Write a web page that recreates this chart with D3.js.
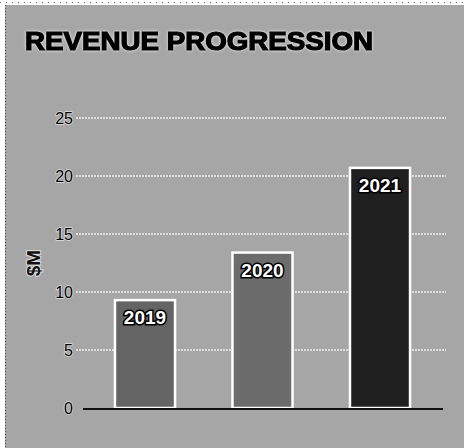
<!DOCTYPE html>
<html><head><meta charset="utf-8">
<script src="https://cdn.jsdelivr.net/npm/d3@7"></script>
<style>html,body{margin:0;padding:0;background:#fff;}</style>
</head><body>
<svg id="c" width="464" height="448"></svg>
<script>
const categories = ["2019","2020","2021"];
const revenue = [9.3, 13.4, 20.7];
const tickValues = [0,5,10,15,20,25];
const barColors = ["#646464","#6c6c6c","#202020"];

const svg = d3.select("#c");
const W=464,H=448;
svg.append("rect").attr("x",5).attr("y",5).attr("width",W-5).attr("height",H-5).attr("fill","#a6a6a6");
svg.append("line").attr("x1",0).attr("x2",W).attr("y1",2.5).attr("y2",2.5).attr("stroke","#666").attr("stroke-dasharray","1,5");
svg.append("line").attr("x1",5.5).attr("x2",5.5).attr("y1",5).attr("y2",H).attr("stroke","#444").attr("stroke-dasharray","1,2");

const y = d3.scaleLinear().domain([0,25]).range([408,118]);
const x = d3.scaleBand().domain(categories).range([85,440]).paddingInner(0.489).paddingOuter(0.255);

svg.append("g").selectAll("line").data(tickValues.filter(d=>d>0)).join("line")
  .attr("x1",76).attr("x2",446).attr("y1",d=>y(d)).attr("y2",d=>y(d))
  .attr("stroke","#eee").attr("stroke-width",1.5).attr("stroke-dasharray","2,1");

const ax = d3.axisLeft(y).tickValues(tickValues).tickSize(0).tickPadding(3);
const g = svg.append("g").attr("transform","translate(76,0)").call(ax);
g.select(".domain").remove();
g.selectAll("text").attr("font-family","Liberation Sans, Arial, sans-serif").attr("font-size",16)
  .attr("fill","#000").attr("stroke","#ddd").attr("stroke-width",1.5).attr("paint-order","stroke").attr("dy","0.35em");

svg.append("g").selectAll("rect").data(revenue).join("rect")
  .attr("x",(d,i)=>x(categories[i])).attr("width",x.bandwidth())
  .attr("y",d=>y(d)).attr("height",d=>y(0)-y(d))
  .attr("fill",(d,i)=>barColors[i]).attr("stroke","#fff").attr("stroke-width",2.5);

svg.append("line").attr("x1",83).attr("x2",443).attr("y1",y(0)+1).attr("y2",y(0)+1).attr("stroke","#111").attr("stroke-width",2);

svg.append("g").selectAll("text").data(revenue).join("text")
  .attr("x",(d,i)=>x(categories[i])+x.bandwidth()/2).attr("y",d=>y(d)+24)
  .attr("text-anchor","middle").attr("font-family","Liberation Sans, Arial, sans-serif")
  .attr("font-weight","bold").attr("font-size",19).attr("fill","#fff")
  .attr("stroke","#000").attr("stroke-width",3).attr("paint-order","stroke")
  .text((d,i)=>categories[i]);

svg.append("text").attr("transform","translate(40,263) rotate(-90)")
  .attr("text-anchor","middle").attr("font-family","Liberation Sans, Arial, sans-serif")
  .attr("font-weight","bold").attr("font-size",19).attr("fill","#111")
  .attr("stroke","#ddd").attr("stroke-width",2).attr("paint-order","stroke").text("$M");

svg.append("text").attr("x",25).attr("y",49.5).attr("font-family","Liberation Sans, Arial, sans-serif")
  .attr("font-weight","bold").attr("font-size",25).attr("fill","#000")
  .attr("stroke","#000").attr("stroke-width",1.2)
  .attr("textLength",348).attr("lengthAdjust","spacingAndGlyphs")
  .style("filter","drop-shadow(0 0 1.5px #fff)")
  .text("REVENUE PROGRESSION");
</script>
</body></html>
